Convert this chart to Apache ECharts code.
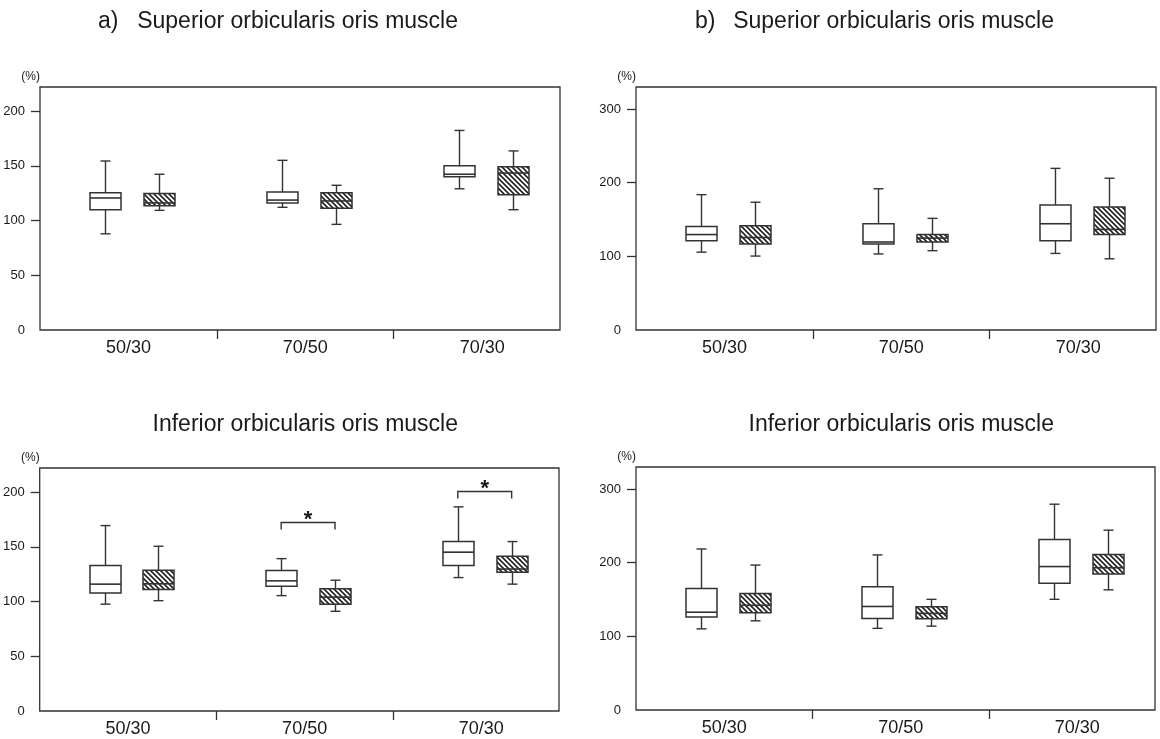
<!DOCTYPE html>
<html><head><meta charset="utf-8">
<script src="https://cdn.jsdelivr.net/npm/echarts@6/dist/echarts.min.js"></script>
<style>html,body{margin:0;padding:0;background:#fff}#chart{width:1160px;height:739px}</style>
</head><body><div id="chart"></div>
<script>
// ---------------- data ----------------
const categories = ['50/30', '70/50', '70/30'];
// each box: [min, Q1, median, Q3, max]  (white = plain box, hatched = hatched box)
const supA_white   = [[87.9, 109.9, 120.6, 125.4, 154.4], [112.1, 116.1, 118.7, 126.0, 155.0], [129.0, 139.9, 142.3, 150.1, 182.3]];
const supA_hatched = [[109.3, 113.4, 116.1, 124.6, 142.3], [96.5, 111.3, 117.9, 125.4, 132.2], [109.9, 123.6, 143.4, 149.1, 163.6]];
const infA_white   = [[97.6, 107.8, 115.9, 132.9, 169.4], [105.4, 114.0, 118.9, 128.4, 139.2], [121.9, 132.9, 145.1, 154.8, 186.5]];
const infA_hatched = [[100.8, 111.0, 116.2, 128.6, 150.5], [91.1, 97.6, 104.0, 111.6, 119.5], [115.9, 126.8, 129.7, 141.4, 154.8]];
const supB_white   = [[105.7, 121.1, 129.6, 140.6, 183.8], [103.3, 116.7, 119.5, 144.3, 191.8], [104.0, 121.1, 144.3, 169.9, 219.5]];
const supB_hatched = [[100.4, 116.7, 125.6, 141.5, 173.5], [107.7, 119.5, 124.8, 129.6, 151.6], [96.7, 129.6, 136.6, 167.1, 206.1]];
const infB_white   = [[110.2, 126.4, 132.8, 164.9, 218.7], [110.9, 124.3, 140.6, 167.3, 210.6], [150.3, 172.2, 194.8, 231.7, 279.5]];
const infB_hatched = [[121.1, 132.1, 142.2, 158.3, 196.8], [113.9, 123.9, 131.2, 140.1, 150.3], [163.2, 184.7, 193.2, 211.1, 244.2]];
// significance brackets in the inferior (a) panel: [category index, bracket level]
const infA_sig = [[1, 172.7], [2, 201.4]];
const ticksA = [0, 50, 100, 150, 200];
const ticksB = [0, 100, 200, 300];
const titleSup = 'Superior orbicularis oris muscle';
const titleInf = 'Inferior orbicularis oris muscle';

// ---------------- style / layout ----------------
const FONT = '"Liberation Sans", Arial, sans-serif';
const LINE = '#333';
const TEXT = '#1a1a1a';
const X_MAX = 2.94;
const OFF_WHITE = -0.133, OFF_HATCH = 0.172;
const BOX_W = 31, CAP_W = 10;

// hatch pattern
const hc = document.createElement('canvas');
hc.width = 5; hc.height = 5;
const g = hc.getContext('2d');
g.fillStyle = '#fff'; g.fillRect(0, 0, 5, 5);
g.strokeStyle = '#222'; g.lineWidth = 1.6;
g.beginPath();
g.moveTo(-1, -1); g.lineTo(6, 6);
g.moveTo(-1, 4); g.lineTo(1, 6);
g.moveTo(4, -1); g.lineTo(6, 1);
g.stroke();
const HATCH = { image: hc, repeat: 'repeat' };

const chart = echarts.init(document.getElementById('chart'), null, { renderer: 'canvas' });

const grids = [
  { left: 40, top: 87, width: 520, height: 243 },
  { left: 636, top: 87, width: 520, height: 243 },
  { left: 39, top: 468, width: 520, height: 243 },
  { left: 636, top: 467, width: 519, height: 243 }
].map(gr => Object.assign({ show: true, borderColor: LINE, borderWidth: 1.3, backgroundColor: 'transparent' }, gr));

function xAxis(gi) {
  return {
    type: 'value', gridIndex: gi, min: 0, max: X_MAX,
    axisLine: { show: false }, splitLine: { show: false },
    axisTick: { show: true, customValues: [1, 2], length: 9, inside: false, lineStyle: { color: LINE, width: 1.3 } },
    axisLabel: { customValues: [0.5, 1.5, 2.5], formatter: v => categories[Math.floor(v)], fontSize: 18, color: TEXT, margin: 9, fontFamily: FONT }
  };
}
function yAxis(gi, max, ticks) {
  return {
    type: 'value', gridIndex: gi, min: 0, max: max,
    name: '(%)', nameLocation: 'end', nameGap: 10,
    nameTextStyle: { fontSize: 12, color: TEXT, align: 'right', verticalAlign: 'middle', fontFamily: FONT },
    axisLine: { show: false }, splitLine: { show: false },
    axisTick: { show: true, customValues: ticks.filter(v => v > 0), length: 9, lineStyle: { color: LINE, width: 1.3 } },
    axisLabel: { customValues: ticks, fontSize: 13, color: TEXT, margin: 15, fontFamily: FONT }
  };
}

function boxRender(fill) {
  return function (params, api) {
    const x = api.value(0);
    const pMin = api.coord([x, api.value(1)]);
    const pQ1 = api.coord([x, api.value(2)]);
    const pMed = api.coord([x, api.value(3)]);
    const pQ3 = api.coord([x, api.value(4)]);
    const pMax = api.coord([x, api.value(5)]);
    const cx = Math.round(pMin[0]) + 0.5;
    const hw = BOX_W / 2, ch = CAP_W / 2;
    const ls = { stroke: LINE, lineWidth: 1.4 };
    return {
      type: 'group', children: [
        { type: 'line', shape: { x1: cx, y1: pMax[1], x2: cx, y2: pQ3[1] }, style: ls },
        { type: 'line', shape: { x1: cx, y1: pQ1[1], x2: cx, y2: pMin[1] }, style: ls },
        { type: 'line', shape: { x1: cx - ch, y1: pMax[1], x2: cx + ch, y2: pMax[1] }, style: ls },
        { type: 'line', shape: { x1: cx - ch, y1: pMin[1], x2: cx + ch, y2: pMin[1] }, style: ls },
        { type: 'rect', shape: { x: cx - hw, y: pQ3[1], width: 2 * hw, height: pQ1[1] - pQ3[1] }, style: { fill: fill, stroke: LINE, lineWidth: 1.5 } },
        { type: 'line', shape: { x1: cx - hw, y1: pMed[1], x2: cx + hw, y2: pMed[1] }, style: { stroke: LINE, lineWidth: 1.6 } }
      ]
    };
  };
}
function boxSeries(name, gi, arr, off, fill) {
  return {
    type: 'custom', name: name, xAxisIndex: gi, yAxisIndex: gi,
    data: arr.map((d, i) => [i + 0.5 + off].concat(d)),
    encode: { x: 0, y: [1, 2, 3, 4, 5] },
    renderItem: boxRender(fill), silent: true
  };
}
function sigSeries(gi, arr) {
  return {
    type: 'custom', xAxisIndex: gi, yAxisIndex: gi, data: arr, encode: { x: 0, y: 1 }, silent: true,
    renderItem: function (params, api) {
      const i = api.value(0), lvl = api.value(1);
      const p1 = api.coord([i + 0.5 + OFF_WHITE, lvl]);
      const p2 = api.coord([i + 0.5 + OFF_HATCH, lvl]);
      const y = Math.round(p1[1]) + 0.5;
      return {
        type: 'group', children: [
          { type: 'polyline', shape: { points: [[p1[0], y + 7], [p1[0], y], [p2[0], y], [p2[0], y + 7]] }, style: { stroke: LINE, lineWidth: 1.4, fill: null } },
          { type: 'text', x: (p1[0] + p2[0]) / 2, y: y - 3, style: { text: '*', fontSize: 22, fontWeight: 'bold', fontFamily: FONT, fill: TEXT, align: 'center', verticalAlign: 'middle' } }
        ]
      };
    }
  };
}

const tStyle = { fontSize: 23, fontWeight: 'normal', color: TEXT, fontFamily: FONT, lineHeight: 22 };
const option = {
  backgroundColor: '#fff',
  animation: false,
  title: [
    { text: 'a)', left: 98, top: 11, padding: 0, textStyle: tStyle },
    { text: titleSup, right: 702, top: 11, padding: 0, textStyle: tStyle },
    { text: 'b)', left: 695, top: 11, padding: 0, textStyle: tStyle },
    { text: titleSup, right: 106, top: 11, padding: 0, textStyle: tStyle },
    { text: titleInf, right: 702, top: 414, padding: 0, textStyle: tStyle },
    { text: titleInf, right: 106, top: 414, padding: 0, textStyle: tStyle }
  ],
  grid: grids,
  xAxis: [xAxis(0), xAxis(1), xAxis(2), xAxis(3)],
  yAxis: [yAxis(0, 222, ticksA), yAxis(1, 330, ticksB), yAxis(2, 222, ticksA), yAxis(3, 330, ticksB)],
  series: [
    boxSeries('white', 0, supA_white, OFF_WHITE, '#fff'),
    boxSeries('hatched', 0, supA_hatched, OFF_HATCH, HATCH),
    boxSeries('white', 1, supB_white, OFF_WHITE, '#fff'),
    boxSeries('hatched', 1, supB_hatched, OFF_HATCH, HATCH),
    boxSeries('white', 2, infA_white, OFF_WHITE, '#fff'),
    boxSeries('hatched', 2, infA_hatched, OFF_HATCH, HATCH),
    boxSeries('white', 3, infB_white, OFF_WHITE, '#fff'),
    boxSeries('hatched', 3, infB_hatched, OFF_HATCH, HATCH),
    sigSeries(2, infA_sig)
  ]
};
chart.setOption(option);
</script>
</body></html>
